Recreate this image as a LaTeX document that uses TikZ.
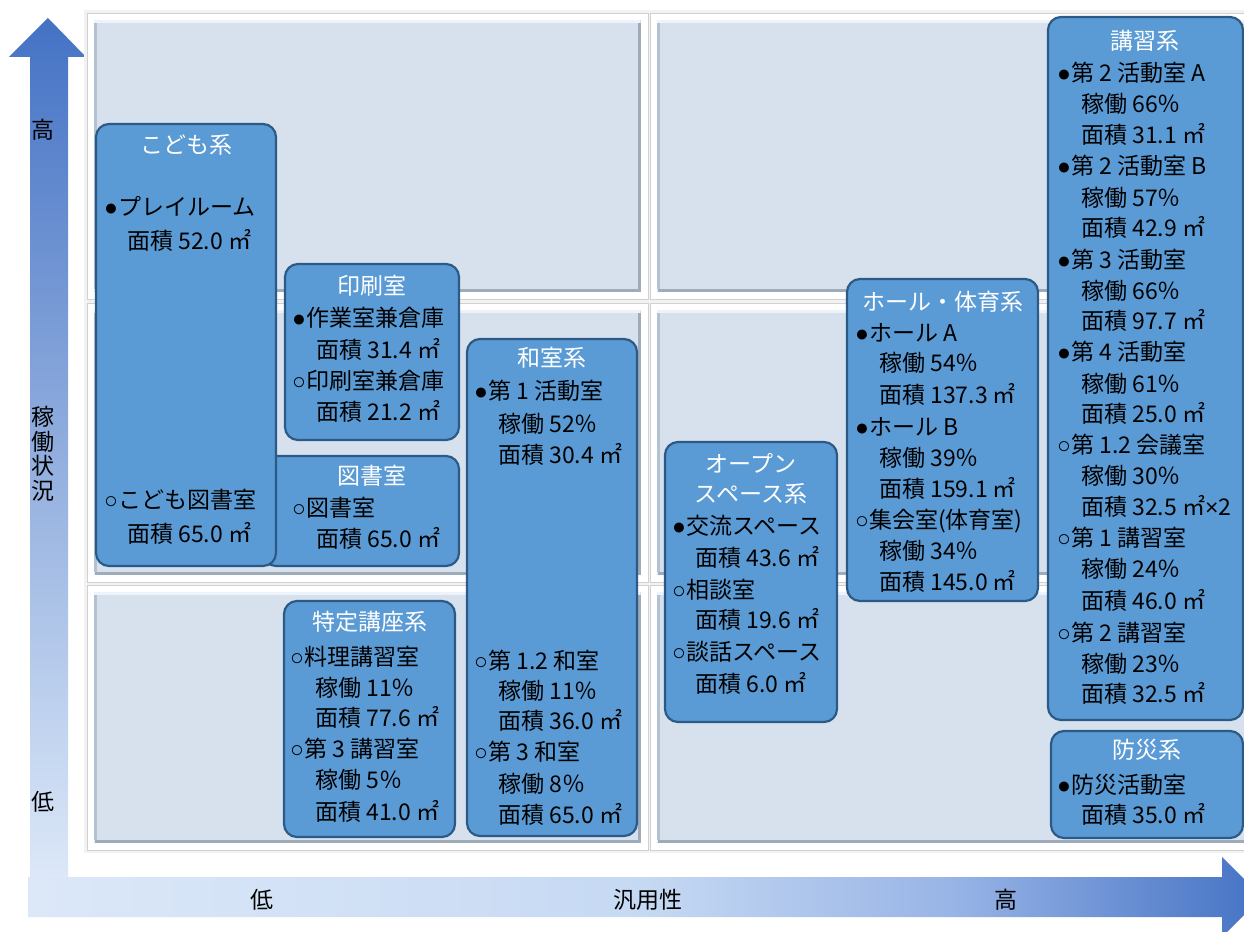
\documentclass[tikz,border=0pt]{standalone}
\usepackage{fontspec}
\setmainfont{Noto Sans CJK JP}
\newfontfamily\bulfont{Liberation Sans}
\definecolor{boxfill}{HTML}{5B9BD5}
\definecolor{boxedge}{HTML}{2C5A86}
\definecolor{cellfill}{HTML}{D6E1ED}
\definecolor{celldark}{HTML}{9EABB8}
\definecolor{cellside}{HTML}{B3C2D1}
\definecolor{celllight}{HTML}{ECF3FB}
\definecolor{axdark}{HTML}{4472C4}
\definecolor{axmidv}{HTML}{8CA8DE}
\definecolor{axlight}{HTML}{DCE8F8}
\definecolor{axmidh}{HTML}{C6D9F3}
\definecolor{axq}{HTML}{98B4E6}
\pgfdeclarehorizontalshading{haxis}{100bp}{color(0bp)=(axlight); color(25bp)=(axlight); color(50bp)=(axmidh); color(62.5bp)=(axq); color(75bp)=(axdark); color(100bp)=(axdark)}
\newcommand\bk{{\bulfont ●}}
\newcommand\wh{{\bulfont ○}}
\newcommand\tms{{\bulfont ×}}
\newcommand\tx[4]{\node[itm] (#1) at (#2,{#3+8.5}) {#4};}
\newcommand\hd[4]{\node[ttl] (#1) at (#2,{#3+8.5}) {#4};}
\newcommand\bx[5]{\node[box, minimum width={(#4-#2)*1pt}, minimum height={(#5-#3)*1pt}] (#1) at ({(#2+#4)/2},{(#3+#5)/2}) {};}
\newcommand\cell[5]{%
  \node[cellout, minimum width={(#4-#2+14)*1pt}, minimum height={(#5-#3+14)*1pt}] (#1o) at ({(#2+#4)/2},{(#3+#5)/2}) {};
  \node[cellin, minimum width={(#4-#2)*1pt}, minimum height={(#5-#3)*1pt}] (#1) at ({(#2+#4)/2},{(#3+#5)/2}) {};
  \draw[celllight, line width=3pt] (#1.south west) ++(1.5,-1.5) |- ([xshift=-1.5pt,yshift=-1.5pt]#1.north east);
  \draw[cellside, line width=3pt] ([xshift=1.5pt,yshift=3pt]#1.south west) -- ([xshift=1.5pt,yshift=-3pt]#1.north west);
  \draw[celldark, line width=3pt] ([xshift=1.5pt,yshift=1.5pt]#1.south west) -| ([xshift=-1.5pt,yshift=-3pt]#1.north east);
}
\tikzset{
  every node/.style={font=\fontsize{23}{28}\selectfont},
  box/.style={draw=boxedge, fill=boxfill, line width=2.2pt, rounded corners=13pt, inner sep=0pt},
  ttl/.style={text=white, anchor=base, inner sep=0pt},
  itm/.style={anchor=base west, inner sep=0pt, text=black},
  axl/.style={inner sep=0pt, text=black},
  cellout/.style={fill=white, draw=black!18, line width=0.8pt, inner sep=0pt},
  cellin/.style={fill=cellfill, inner sep=0pt},
}
\begin{document}
\begin{tikzpicture}[x=1pt,y=-1pt]
\useasboundingbox (0,0) rectangle (1244,931);
\clip (0,0) rectangle (1244,931);
\fill[white] (0,0) rectangle (1244,931);
% axes
\path[top color=axdark, middle color=axmidv, bottom color=axlight]
  (48,18) -- (86,57) -- (68,57) -- (68,877) -- (30,877) -- (30,57) -- (9,57) -- cycle;
\path[shading=haxis]
  (28,877) -- (1222,877) -- (1222,857) -- (1262,897) -- (1222,937) -- (1222,917) -- (28,917) -- cycle;
\node[axl] (yhigh) at (43,130) {高};
\node[axl, align=center, font=\fontsize{23}{24.5}\selectfont] (ylab) at (43,454) {稼\\働\\状\\況};
\node[axl] (ylow) at (43,802) {低};
\node[axl] (xlow) at (262,900) {低};
\node[axl] (xlab) at (648,900) {汎用性};
\node[axl] (xhigh) at (1006,900) {高};
% background cells
\fill[black!5] (84,10) rectangle (1244,853);
\cell{c11}{94}{20}{641}{292}
\cell{c12}{657}{20}{1250}{292}
\cell{c21}{94}{310}{641}{575}
\cell{c22}{657}{310}{1250}{575}
\cell{c31}{94}{592}{641}{843}
\cell{c32}{657}{592}{1250}{843}
% boxes
\bx{tosho}{263}{456}{459}{566}
\bx{kodomo}{96}{124}{276}{566}
\bx{insatsu}{285}{264}{459}{440}
\bx{washitsu}{467}{339}{637}{836}
\bx{tokutei}{284}{601}{455}{837}
\bx{open}{665}{442}{837}{722}
\bx{hall}{847}{279}{1038}{601}
\bx{koshu}{1048}{17}{1243}{720}
\bx{bousai}{1051}{731}{1243}{838}
% こども系
\hd{kt}{186}{145}{こども系}
\tx{k1}{104}{207}{\bk プレイルーム}
\tx{k2}{127}{241}{面積 52.0 ㎡}
\tx{k3}{104}{500}{\wh こども図書室}
\tx{k4}{127}{534}{面積 65.0 ㎡}
% 印刷室
\hd{it}{372}{286}{印刷室}
\tx{i1}{292}{318}{\bk 作業室兼倉庫}
\tx{i2}{316}{350}{面積 31.4 ㎡}
\tx{i3}{292}{381}{\wh 印刷室兼倉庫}
\tx{i4}{316}{412}{面積 21.2 ㎡}
% 図書室
\hd{tt}{372}{476}{図書室}
\tx{t1}{292}{508}{\wh 図書室}
\tx{t2}{316}{539}{面積 65.0 ㎡}
% 和室系
\hd{wt}{552}{358}{和室系}
\tx{w1}{474}{391}{\bk 第 1 活動室}
\tx{w2}{498}{424}{稼働 52％}
\tx{w3}{498}{455}{面積 30.4 ㎡}
\tx{w4}{474}{661}{\wh 第 1.2 和室}
\tx{w5}{498}{691}{稼働 11％}
\tx{w6}{498}{721}{面積 36.0 ㎡}
\tx{w7}{474}{752}{\wh 第 3 和室}
\tx{w8}{498}{784}{稼働 8％}
\tx{w9}{498}{815}{面積 65.0 ㎡}
% 特定講座系
\hd{st}{370}{622}{特定講座系}
\tx{s1}{290}{657}{\wh 料理講習室}
\tx{s2}{315}{688}{稼働 11％}
\tx{s3}{315}{718}{面積 77.6 ㎡}
\tx{s4}{290}{749}{\wh 第 3 講習室}
\tx{s5}{315}{780}{稼働 5％}
\tx{s6}{315}{812}{面積 41.0 ㎡}
% オープンスペース系
\hd{ot1}{751}{464}{オープン}
\hd{ot2}{751}{494}{スペース系}
\tx{o1}{672}{526}{\bk 交流スペース}
\tx{o2}{695}{558}{面積 43.6 ㎡}
\tx{o3}{672}{590}{\wh 相談室}
\tx{o4}{695}{620}{面積 19.6 ㎡}
\tx{o5}{672}{652}{\wh 談話スペース}
\tx{o6}{695}{684}{面積 6.0 ㎡}
% ホール・体育系
\hd{ht}{943}{302}{ホール・体育系}
\tx{h1}{855}{333}{\bk ホール A}
\tx{h2}{879}{363}{稼働 54％}
\tx{h3}{879}{395}{面積 137.3 ㎡}
\tx{h4}{855}{427}{\bk ホール B}
\tx{h5}{879}{458}{稼働 39％}
\tx{h6}{879}{489}{面積 159.1 ㎡}
\tx{h7}{855}{520}{\wh 集会室(体育室)}
\tx{h8}{879}{551}{稼働 34％}
\tx{h9}{879}{582}{面積 145.0 ㎡}
% 講習系
\hd{kst}{1145}{41}{講習系}
\tx{ks1}{1057}{73}{\bk 第 2 活動室 A}
\tx{ks2}{1081}{104}{稼働 66％}
\tx{ks3}{1081}{135}{面積 31.1 ㎡}
\tx{ks4}{1057}{166}{\bk 第 2 活動室 B}
\tx{ks5}{1081}{198}{稼働 57％}
\tx{ks6}{1081}{228}{面積 42.9 ㎡}
\tx{ks7}{1057}{260}{\bk 第 3 活動室}
\tx{ks8}{1081}{291}{稼働 66％}
\tx{ks9}{1081}{321}{面積 97.7 ㎡}
\tx{ks10}{1057}{352}{\bk 第 4 活動室}
\tx{ks11}{1081}{384}{稼働 61％}
\tx{ks12}{1081}{414}{面積 25.0 ㎡}
\tx{ks13}{1057}{445}{\wh 第 1.2 会議室}
\tx{ks14}{1081}{476}{稼働 30％}
\tx{ks15}{1081}{507}{面積 32.5 ㎡\tms 2}
\tx{ks16}{1057}{538}{\wh 第 1 講習室}
\tx{ks17}{1081}{569}{稼働 24％}
\tx{ks18}{1081}{601}{面積 46.0 ㎡}
\tx{ks19}{1057}{633}{\wh 第 2 講習室}
\tx{ks20}{1081}{664}{稼働 23％}
\tx{ks21}{1081}{694}{面積 32.5 ㎡}
% 防災系
\hd{bt}{1147}{750}{防災系}
\tx{b1}{1057}{785}{\bk 防災活動室}
\tx{b2}{1081}{815}{面積 35.0 ㎡}
\end{tikzpicture}
\end{document}
